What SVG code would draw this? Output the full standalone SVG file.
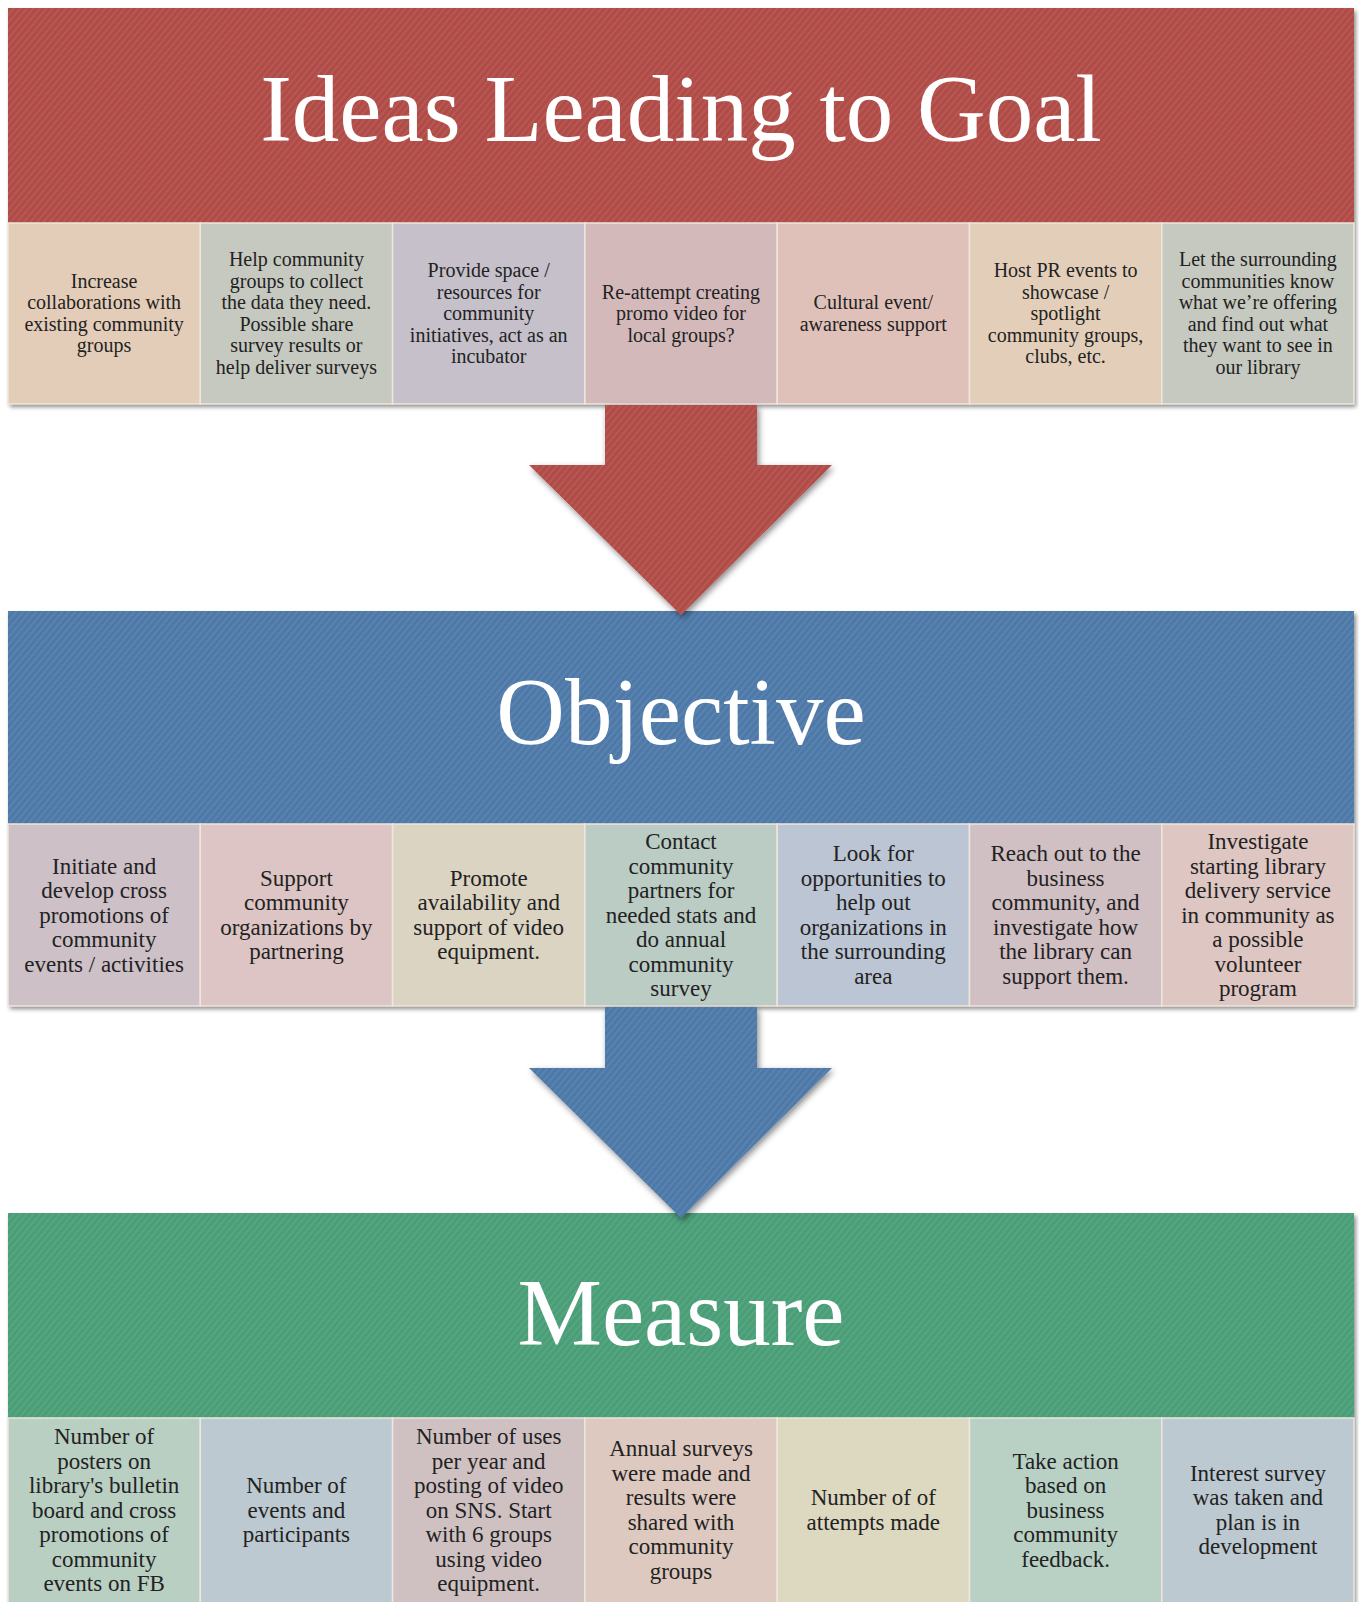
<svg xmlns="http://www.w3.org/2000/svg" width="1359" height="1602" viewBox="0 0 1359 1602">
<defs>
<pattern id="twill" width="5" height="5" patternUnits="userSpaceOnUse" patternTransform="rotate(40)">
<rect width="2" height="5" fill="#ffffff" opacity="0.07"/>
</pattern>
<filter id="sh" x="-5%" y="-5%" width="110%" height="115%">
<feDropShadow dx="2" dy="3" stdDeviation="2" flood-color="#000" flood-opacity="0.45"/>
</filter>
<filter id="ash" x="-10%" y="-10%" width="120%" height="120%">
<feDropShadow dx="2" dy="3" stdDeviation="3" flood-color="#000" flood-opacity="0.45"/>
</filter>
</defs>
<style>
.title{font-family:"Liberation Serif","Times New Roman",serif;font-size:95px;fill:#ffffff;text-anchor:middle}
.cell{stroke:#efe6dc;stroke-width:1.5}
.t1{font-family:"Liberation Serif","Times New Roman",serif;font-size:20px;fill:#222;text-anchor:middle}
.t2{font-family:"Liberation Serif","Times New Roman",serif;font-size:23px;fill:#222;text-anchor:middle}
.tex{fill:url(#twill)}
</style>
<rect width="1359" height="1602" fill="#ffffff"/>

<!-- Ideas band -->
<g id="ideas" filter="url(#sh)">
<rect x="8" y="8" width="1346" height="396" fill="#B04B46"/>
<rect class="tex" x="8" y="8" width="1346" height="215"/>
<text class="title" x="681" y="141">Ideas Leading to Goal</text>
</g>
<g id="idea-1"><rect class="cell" x="8" y="223" width="192.3" height="181" fill="#E3CDB8"/>
<text class="t1"><tspan x="104.1" y="287.75">Increase</tspan><tspan x="104.1" dy="21.5">collaborations with</tspan><tspan x="104.1" dy="21.5">existing community</tspan><tspan x="104.1" dy="21.5">groups</tspan></text></g>
<g id="idea-2"><rect class="cell" x="200.3" y="223" width="192.3" height="181" fill="#C6C9C0"/>
<text class="t1"><tspan x="296.4" y="266.25">Help community</tspan><tspan x="296.4" dy="21.5">groups to collect</tspan><tspan x="296.4" dy="21.5">the data they need.</tspan><tspan x="296.4" dy="21.5">Possible share</tspan><tspan x="296.4" dy="21.5">survey results or</tspan><tspan x="296.4" dy="21.5">help deliver surveys</tspan></text></g>
<g id="idea-3"><rect class="cell" x="392.6" y="223" width="192.3" height="181" fill="#C5C0CA"/>
<text class="t1"><tspan x="488.7" y="277">Provide space /</tspan><tspan x="488.7" dy="21.5">resources for</tspan><tspan x="488.7" dy="21.5">community</tspan><tspan x="488.7" dy="21.5">initiatives, act as an</tspan><tspan x="488.7" dy="21.5">incubator</tspan></text></g>
<g id="idea-4"><rect class="cell" x="584.9" y="223" width="192.3" height="181" fill="#D4B9BB"/>
<text class="t1"><tspan x="681" y="298.5">Re-attempt creating</tspan><tspan x="681" dy="21.5">promo video for</tspan><tspan x="681" dy="21.5">local groups?</tspan></text></g>
<g id="idea-5"><rect class="cell" x="777.2" y="223" width="192.3" height="181" fill="#E0C1B9"/>
<text class="t1"><tspan x="873.3" y="309.25">Cultural event/</tspan><tspan x="873.3" dy="21.5">awareness support</tspan></text></g>
<g id="idea-6"><rect class="cell" x="969.5" y="223" width="192.3" height="181" fill="#E3CFB9"/>
<text class="t1"><tspan x="1065.6" y="277">Host PR events to</tspan><tspan x="1065.6" dy="21.5">showcase /</tspan><tspan x="1065.6" dy="21.5">spotlight</tspan><tspan x="1065.6" dy="21.5">community groups,</tspan><tspan x="1065.6" dy="21.5">clubs, etc.</tspan></text></g>
<g id="idea-7"><rect class="cell" x="1161.8" y="223" width="192.2" height="181" fill="#C6C9C0"/>
<text class="t1"><tspan x="1257.9" y="266.25">Let the surrounding</tspan><tspan x="1257.9" dy="21.5">communities know</tspan><tspan x="1257.9" dy="21.5">what we’re offering</tspan><tspan x="1257.9" dy="21.5">and find out what</tspan><tspan x="1257.9" dy="21.5">they want to see in</tspan><tspan x="1257.9" dy="21.5">our library</tspan></text></g>

<!-- Objective band -->
<g id="objective" filter="url(#sh)">
<rect x="8" y="611" width="1346" height="395" fill="#4E79A8"/>
<rect class="tex" x="8" y="611" width="1346" height="213"/>
<text class="title" x="681" y="744">Objective</text>
</g>
<g id="obj-1"><rect class="cell" x="8" y="824" width="192.3" height="182" fill="#CDC0C7"/>
<text class="t2"><tspan x="104.1" y="873.5">Initiate and</tspan><tspan x="104.1" dy="24.5">develop cross</tspan><tspan x="104.1" dy="24.5">promotions of</tspan><tspan x="104.1" dy="24.5">community</tspan><tspan x="104.1" dy="24.5">events / activities</tspan></text></g>
<g id="obj-2"><rect class="cell" x="200.3" y="824" width="192.3" height="182" fill="#DCC5C4"/>
<text class="t2"><tspan x="296.4" y="885.75">Support</tspan><tspan x="296.4" dy="24.5">community</tspan><tspan x="296.4" dy="24.5">organizations by</tspan><tspan x="296.4" dy="24.5">partnering</tspan></text></g>
<g id="obj-3"><rect class="cell" x="392.6" y="824" width="192.3" height="182" fill="#DCD4C2"/>
<text class="t2"><tspan x="488.7" y="885.75">Promote</tspan><tspan x="488.7" dy="24.5">availability and</tspan><tspan x="488.7" dy="24.5">support of video</tspan><tspan x="488.7" dy="24.5">equipment.</tspan></text></g>
<g id="obj-4"><rect class="cell" x="584.9" y="824" width="192.3" height="182" fill="#BBCCC5"/>
<text class="t2"><tspan x="681" y="849">Contact</tspan><tspan x="681" dy="24.5">community</tspan><tspan x="681" dy="24.5">partners for</tspan><tspan x="681" dy="24.5">needed stats and</tspan><tspan x="681" dy="24.5">do annual</tspan><tspan x="681" dy="24.5">community</tspan><tspan x="681" dy="24.5">survey</tspan></text></g>
<g id="obj-5"><rect class="cell" x="777.2" y="824" width="192.3" height="182" fill="#BCC5D3"/>
<text class="t2"><tspan x="873.3" y="861.25">Look for</tspan><tspan x="873.3" dy="24.5">opportunities to</tspan><tspan x="873.3" dy="24.5">help out</tspan><tspan x="873.3" dy="24.5">organizations in</tspan><tspan x="873.3" dy="24.5">the surrounding</tspan><tspan x="873.3" dy="24.5">area</tspan></text></g>
<g id="obj-6"><rect class="cell" x="969.5" y="824" width="192.3" height="182" fill="#D0BFC3"/>
<text class="t2"><tspan x="1065.6" y="861.25">Reach out to the</tspan><tspan x="1065.6" dy="24.5">business</tspan><tspan x="1065.6" dy="24.5">community, and</tspan><tspan x="1065.6" dy="24.5">investigate how</tspan><tspan x="1065.6" dy="24.5">the library can</tspan><tspan x="1065.6" dy="24.5">support them.</tspan></text></g>
<g id="obj-7"><rect class="cell" x="1161.8" y="824" width="192.2" height="182" fill="#DEC6C2"/>
<text class="t2"><tspan x="1257.9" y="849">Investigate</tspan><tspan x="1257.9" dy="24.5">starting library</tspan><tspan x="1257.9" dy="24.5">delivery service</tspan><tspan x="1257.9" dy="24.5">in community as</tspan><tspan x="1257.9" dy="24.5">a possible</tspan><tspan x="1257.9" dy="24.5">volunteer</tspan><tspan x="1257.9" dy="24.5">program</tspan></text></g>

<!-- Measure band -->
<g id="measure" filter="url(#sh)">
<rect x="8" y="1213" width="1346" height="395" fill="#4A9E77"/>
<rect class="tex" x="8" y="1213" width="1346" height="205"/>
<text class="title" x="681" y="1345">Measure</text>
</g>
<g id="mea-1"><rect class="cell" x="8" y="1418" width="192.3" height="190" fill="#B9CFC2"/>
<text class="t2"><tspan x="104.1" y="1444">Number of</tspan><tspan x="104.1" dy="24.5">posters on</tspan><tspan x="104.1" dy="24.5">library's bulletin</tspan><tspan x="104.1" dy="24.5">board and cross</tspan><tspan x="104.1" dy="24.5">promotions of</tspan><tspan x="104.1" dy="24.5">community</tspan><tspan x="104.1" dy="24.5">events on FB</tspan></text></g>
<g id="mea-2"><rect class="cell" x="200.3" y="1418" width="192.3" height="190" fill="#BCC9D0"/>
<text class="t2"><tspan x="296.4" y="1493">Number of</tspan><tspan x="296.4" dy="24.5">events and</tspan><tspan x="296.4" dy="24.5">participants</tspan></text></g>
<g id="mea-3"><rect class="cell" x="392.6" y="1418" width="192.3" height="190" fill="#CFC1C2"/>
<text class="t2"><tspan x="488.7" y="1444">Number of uses</tspan><tspan x="488.7" dy="24.5">per year and</tspan><tspan x="488.7" dy="24.5">posting of video</tspan><tspan x="488.7" dy="24.5">on SNS. Start</tspan><tspan x="488.7" dy="24.5">with 6 groups</tspan><tspan x="488.7" dy="24.5">using video</tspan><tspan x="488.7" dy="24.5">equipment.</tspan></text></g>
<g id="mea-4"><rect class="cell" x="584.9" y="1418" width="192.3" height="190" fill="#DDC9BF"/>
<text class="t2"><tspan x="681" y="1456.25">Annual surveys</tspan><tspan x="681" dy="24.5">were made and</tspan><tspan x="681" dy="24.5">results were</tspan><tspan x="681" dy="24.5">shared with</tspan><tspan x="681" dy="24.5">community</tspan><tspan x="681" dy="24.5">groups</tspan></text></g>
<g id="mea-5"><rect class="cell" x="777.2" y="1418" width="192.3" height="190" fill="#DDD8C0"/>
<text class="t2"><tspan x="873.3" y="1505.25">Number of of</tspan><tspan x="873.3" dy="24.5">attempts made</tspan></text></g>
<g id="mea-6"><rect class="cell" x="969.5" y="1418" width="192.3" height="190" fill="#B9D1C4"/>
<text class="t2"><tspan x="1065.6" y="1468.5">Take action</tspan><tspan x="1065.6" dy="24.5">based on</tspan><tspan x="1065.6" dy="24.5">business</tspan><tspan x="1065.6" dy="24.5">community</tspan><tspan x="1065.6" dy="24.5">feedback.</tspan></text></g>
<g id="mea-7"><rect class="cell" x="1161.8" y="1418" width="192.2" height="190" fill="#BDC9D1"/>
<text class="t2"><tspan x="1257.9" y="1480.75">Interest survey</tspan><tspan x="1257.9" dy="24.5">was taken and</tspan><tspan x="1257.9" dy="24.5">plan is in</tspan><tspan x="1257.9" dy="24.5">development</tspan></text></g>

<!-- Connectors -->
<g id="connectors">
<g filter="url(#ash)">
<path d="M605,405 L757,405 L757,465 L832,465 L681,615 L529,465 L605,465 Z" fill="#B04B46"/>
<path d="M605,1007 L757,1007 L757,1068 L832,1068 L681,1218 L529,1068 L605,1068 Z" fill="#4E79A8"/>
</g>
<path class="tex" d="M605,405 L757,405 L757,465 L832,465 L681,615 L529,465 L605,465 Z"/>
<path class="tex" d="M605,1007 L757,1007 L757,1068 L832,1068 L681,1218 L529,1068 L605,1068 Z"/>
</g>
</svg>
